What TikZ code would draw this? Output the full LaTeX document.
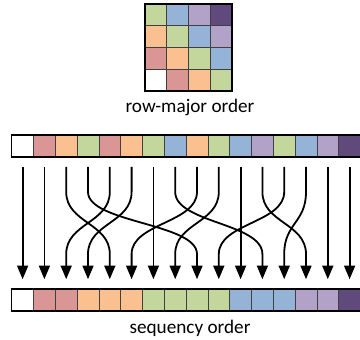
\documentclass[tikz,border=0pt]{standalone}
\usepackage{fontspec}
\setmainfont{Carlito}
\usepackage{tikz}
\usetikzlibrary{arrows}

\definecolor{cw}{HTML}{FFFFFF}
\definecolor{cr}{HTML}{D99694}
\definecolor{co}{HTML}{FAC090}
\definecolor{cg}{HTML}{C3D69B}
\definecolor{cb}{HTML}{95B3D7}
\definecolor{cl}{HTML}{B3A2C7}
\definecolor{cp}{HTML}{604A7B}

\begin{document}
\begin{tikzpicture}[x=0.75pt,y=-0.75pt,
  cell/.style={draw=black!75,line width=0.5pt,minimum size=16.35pt,inner sep=0,outer sep=0},
  frame/.style={draw=black,line width=1.1pt},
  caption/.style={font=\fontsize{14.4}{17}\selectfont,anchor=base,inner sep=0},
  flow/.style={line width=1.35pt,->,>=triangle 45}]
\useasboundingbox (0,0) rectangle (360,339);

% row-major grid
\node[cell,fill=cg] (g00) at (155.8,14.9) {};
\node[cell,fill=cb] (g01) at (177.6,14.9) {};
\node[cell,fill=cl] (g02) at (199.4,14.9) {};
\node[cell,fill=cp] (g03) at (221.2,14.9) {};
\node[cell,fill=co] (g10) at (155.8,36.7) {};
\node[cell,fill=cg] (g11) at (177.6,36.7) {};
\node[cell,fill=cb] (g12) at (199.4,36.7) {};
\node[cell,fill=cl] (g13) at (221.2,36.7) {};
\node[cell,fill=cr] (g20) at (155.8,58.5) {};
\node[cell,fill=co] (g21) at (177.6,58.5) {};
\node[cell,fill=cg] (g22) at (199.4,58.5) {};
\node[cell,fill=cb] (g23) at (221.2,58.5) {};
\node[cell,fill=cw] (g30) at (155.8,80.3) {};
\node[cell,fill=cr] (g31) at (177.6,80.3) {};
\node[cell,fill=co] (g32) at (199.4,80.3) {};
\node[cell,fill=cg] (g33) at (221.2,80.3) {};
\draw[frame] (g00.north west) rectangle (g33.south east);
\node[caption] (rm) at (190,112) {row-major order};

% top bar
\node[cell,fill=cw] (t0) at (22.6,146) {};
\node[cell,fill=cr] (t1) at (44.4,146) {};
\node[cell,fill=co] (t2) at (66.2,146) {};
\node[cell,fill=cg] (t3) at (88.0,146) {};
\node[cell,fill=cr] (t4) at (109.8,146) {};
\node[cell,fill=co] (t5) at (131.6,146) {};
\node[cell,fill=cg] (t6) at (153.4,146) {};
\node[cell,fill=cb] (t7) at (175.2,146) {};
\node[cell,fill=co] (t8) at (197.0,146) {};
\node[cell,fill=cg] (t9) at (218.8,146) {};
\node[cell,fill=cb] (t10) at (240.6,146) {};
\node[cell,fill=cl] (t11) at (262.4,146) {};
\node[cell,fill=cg] (t12) at (284.2,146) {};
\node[cell,fill=cb] (t13) at (306.0,146) {};
\node[cell,fill=cl] (t14) at (327.8,146) {};
\node[cell,fill=cp] (t15) at (349.6,146) {};
\draw[frame] (t0.north west) rectangle (t15.south east);

% bottom bar
\node[cell,fill=cw] (b0) at (22.6,300) {};
\node[cell,fill=cr] (b1) at (44.4,300) {};
\node[cell,fill=cr] (b2) at (66.2,300) {};
\node[cell,fill=co] (b3) at (88.0,300) {};
\node[cell,fill=co] (b4) at (109.8,300) {};
\node[cell,fill=co] (b5) at (131.6,300) {};
\node[cell,fill=cg] (b6) at (153.4,300) {};
\node[cell,fill=cg] (b7) at (175.2,300) {};
\node[cell,fill=cg] (b8) at (197.0,300) {};
\node[cell,fill=cg] (b9) at (218.8,300) {};
\node[cell,fill=cb] (b10) at (240.6,300) {};
\node[cell,fill=cb] (b11) at (262.4,300) {};
\node[cell,fill=cb] (b12) at (284.2,300) {};
\node[cell,fill=cl] (b13) at (306.0,300) {};
\node[cell,fill=cl] (b14) at (327.8,300) {};
\node[cell,fill=cp] (b15) at (349.6,300) {};
\draw[frame] (b0.north west) rectangle (b15.south east);
\node[caption] (sq) at (190,333) {sequency order};

% reordering
\foreach \i/\j in {0/0,1/1,2/4,3/8,4/2,5/3,6/6,7/11,8/5,9/7,10/10,11/13,12/9,13/12,14/14,15/15}
  \draw[flow] ([yshift=-7.5pt]t\i.south) -- ([yshift=-26.25pt]t\i.south)
    .. controls +(0,31) and +(0,-31) .. ([yshift=26.25pt]b\j.north)
    -- ([yshift=7.5pt]b\j.north);
\end{tikzpicture}
\end{document}
